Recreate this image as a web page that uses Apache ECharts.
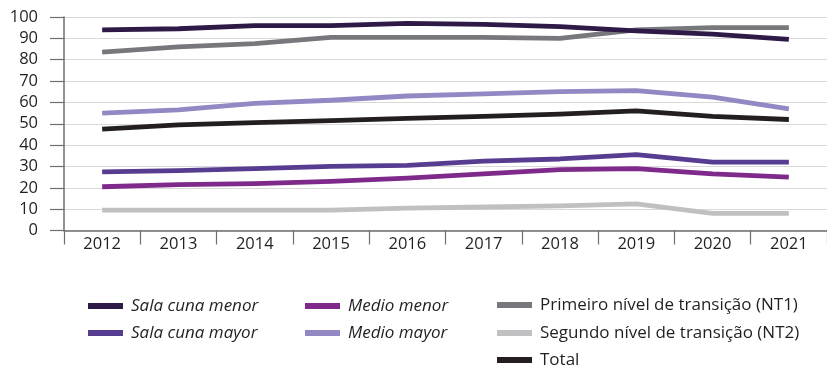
<!DOCTYPE html>
<html>
<head>
<meta charset="utf-8">
<script src="https://cdn.jsdelivr.net/npm/echarts@6/dist/echarts.min.js"></script>
<style>html,body{margin:0;padding:0;background:#fff;}#c{width:827px;height:366px;}</style>
</head>
<body>
<div id="c"></div>
<script>
const years = ['2012','2013','2014','2015','2016','2017','2018','2019','2020','2021'];
const salaCunaMenor = [94, 94.5, 96, 96, 97, 96.5, 95.5, 93.5, 92, 89.5];
const salaCunaMayor = [27.5, 28, 29, 30, 30.5, 32.5, 33.5, 35.5, 32, 32];
const medioMenor = [20.5, 21.5, 22, 23, 24.5, 26.5, 28.5, 29, 26.5, 25];
const medioMayor = [55, 56.5, 59.5, 61, 63, 64, 65, 65.5, 62.5, 57];
const nt1 = [83.5, 86, 87.5, 90.5, 90.5, 90.5, 90, 94, 95, 95];
const nt2 = [9.5, 9.5, 9.5, 9.5, 10.5, 11, 11.5, 12.5, 8, 8];
const total = [47.5, 49.5, 50.5, 51.5, 52.5, 53.5, 54.5, 56, 53.5, 52];
const yTicks = {min: 0, max: 100, interval: 10};

const FONT = 'Open Sans';
const seriesDefs = [
  {name: 'Sala cuna menor', data: salaCunaMenor, color: '#2e1a47', italic: true, left: 88, top: 306},
  {name: 'Sala cuna mayor', data: salaCunaMayor, color: '#563d91', italic: true, left: 88, top: 333},
  {name: 'Medio menor', data: medioMenor, color: '#7f2a8b', italic: true, left: 305, top: 306},
  {name: 'Medio mayor', data: medioMayor, color: '#9388c3', italic: true, left: 305, top: 333},
  {name: 'Primeiro nível de transição (NT1)', data: nt1, color: '#77787b', italic: false, left: 497, top: 305},
  {name: 'Segundo nível de transição (NT2)', data: nt2, color: '#c0c0c2', italic: false, left: 497, top: 333},
  {name: 'Total', data: total, color: '#231f20', italic: false, left: 497, top: 360}
];
// draw order: lighter underneath
const drawOrder = [5, 1, 2, 6, 3, 4, 0];

const chart = echarts.init(document.getElementById('c'), null, {renderer: 'canvas'});
chart.setOption({
  animation: false,
  backgroundColor: '#fff',
  grid: {left: 64, top: 17, width: 771, height: 213.5},
  xAxis: {
    type: 'category', data: years, boundaryGap: true,
    axisLine: {lineStyle: {color: '#6d6e71', width: 1.5}},
    axisTick: {show: true, length: 14, lineStyle: {color: '#6d6e71', width: 1.2}},
    axisLabel: {color: '#231f20', fontFamily: FONT, fontSize: 16.5, margin: 5},
    splitLine: {show: false}
  },
  yAxis: {
    type: 'value', min: yTicks.min, max: yTicks.max, interval: yTicks.interval,
    axisLine: {show: true, lineStyle: {color: '#6d6e71', width: 1.5}},
    axisTick: {show: true, length: 14, lineStyle: {color: '#6d6e71', width: 1.2}},
    axisLabel: {color: '#231f20', fontFamily: FONT, fontSize: 16.5, margin: 26},
    splitLine: {show: true, lineStyle: {color: '#d9d9d9', width: 1.2}}
  },
  legend: seriesDefs.map(s => ({
    data: [s.name], left: s.left, top: s.top - 10, padding: 0,
    itemWidth: 35, itemHeight: 6, itemGap: 0,
    icon: 'rect',
    textStyle: {fontFamily: FONT, fontSize: 17, color: '#231f20',
      fontStyle: s.italic ? 'italic' : 'normal', lineHeight: 20, padding: [0, 0, 0, 3]}
  })),
  series: drawOrder.map(i => {
    const s = seriesDefs[i];
    return {
      name: s.name, type: 'line', data: s.data,
      symbol: 'none', smooth: false,
      itemStyle: {color: s.color},
      lineStyle: {color: s.color, width: 4.8, cap: 'butt', join: 'round'}
    };
  })
});
</script>
</body>
</html>
